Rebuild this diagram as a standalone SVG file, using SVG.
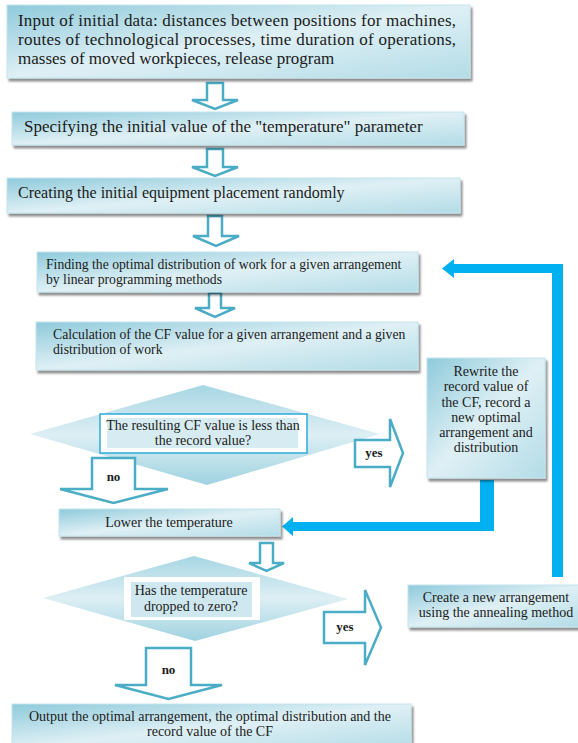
<svg xmlns="http://www.w3.org/2000/svg" width="578" height="743" viewBox="0 0 578 743">
<defs>
<linearGradient id="g" x1="0" y1="0" x2="1" y2="1">
<stop offset="0" stop-color="#8fcadb"/>
<stop offset="0.5" stop-color="#dff0f5"/>
<stop offset="1" stop-color="#b3dce7"/>
</linearGradient>
<linearGradient id="gd" x1="0" y1="0" x2="0" y2="1">
<stop offset="0" stop-color="#a7d6e3"/>
<stop offset="0.5" stop-color="#ddeff4"/>
<stop offset="1" stop-color="#9fd2e0"/>
</linearGradient>
<filter id="sh" x="-5%" y="-10%" width="115%" height="130%">
<feGaussianBlur in="SourceAlpha" stdDeviation="1"/>
<feOffset dx="2" dy="3" result="b"/>
<feComponentTransfer><feFuncA type="linear" slope="0.45"/></feComponentTransfer>
<feMerge><feMergeNode/><feMergeNode in="SourceGraphic"/></feMerge>
</filter>
</defs>
<style>
.box{fill:url(#g);stroke:#c4e4ed;stroke-width:1;filter:url(#sh)}
.dia{fill:url(#gd);stroke:none}
.ha{fill:#ffffff;stroke:#4bacc6;stroke-width:2.5;stroke-linejoin:miter}
.bl{fill:#00b0f0;stroke:none}
text{font-family:"Liberation Serif","Times New Roman",serif;fill:#1b1b1b}
.t17{font-size:17px}
.t16{font-size:16px}
.t13{font-size:13.7px}
.t14{font-size:14px}
.c{text-anchor:middle}
.lb{font-size:13px;text-anchor:middle;font-weight:bold}
</style>

<g id="connectors">
<polygon class="bl" points="563,264 563,577 552,577 552,273 454,273 454,278 442,268.5 454,259 454,264"/>
<polygon class="bl" points="480,480 494,480 494,531 293,531 293,536 282,526.5 293,517 293,522 480,522"/>
<polygon id="a1" class="ha" points="207,83 223,83 223,100 238,100 215,109 192,100 207,100"/>
<polygon id="a2" class="ha" points="207,149 223,149 223,167 238,167 215,176 192,167 207,167"/>
<polygon id="a3" class="ha" points="208,216 222,216 222,236 239,236 216,246 193,236 208,236"/>
<polygon id="a4" class="ha" points="209,293 221,293 221,308 235,308 215,317 195,308 209,308"/>
<polygon id="a5" class="ha" points="260,543 273,543 273,563 284,563 266.5,571 249,563 260,563"/>
</g>

<g id="n1">
<rect class="box" x="7" y="5" width="463" height="73"/>
<text class="t17" x="18" y="26" textLength="438" lengthAdjust="spacing">Input of initial data: distances between positions for machines,</text>
<text class="t17" x="18" y="45" textLength="438" lengthAdjust="spacing">routes of technological processes, time duration of operations,</text>
<text class="t17" x="18" y="64">masses of moved workpieces, release program</text>
</g>

<g id="n2">
<rect class="box" x="12" y="112" width="452" height="33"/>
<text class="t17" x="24" y="132">Specifying the initial value of the "temperature" parameter</text>
</g>

<g id="n3">
<rect class="box" x="7" y="178" width="453" height="35"/>
<text class="t16" x="18" y="198">Creating the initial equipment placement randomly</text>
</g>

<g id="n4">
<rect class="box" x="37" y="252" width="381" height="40"/>
<text class="t13" x="46" y="269">Finding the optimal distribution of work for a given arrangement</text>
<text class="t13" x="46" y="284">by linear programming methods</text>
</g>

<g id="n5">
<rect class="box" x="36" y="322" width="382" height="48"/>
<text class="t13" x="53" y="339">Calculation of the CF value for a given arrangement and a given</text>
<text class="t13" x="53" y="354">distribution of work</text>
</g>

<g id="d1">
<polygon class="dia" points="30,434 203,385 380,434 207,485"/>
<rect x="100" y="414" width="207" height="39" fill="#ffffff" stroke="#2eaadc" stroke-width="1.5"/>
<rect x="107" y="418" width="191" height="30" fill="#d7ecf2"/>
<text class="t14 c" x="203" y="430">The resulting CF value is less than</text>
<text class="t14 c" x="203" y="445">the record value?</text>
</g>

<g id="yes1">
<polygon class="ha" points="355,440 390,440 390,419 403,453 390,487 390,467 355,467"/>
<text class="lb" x="374" y="457">yes</text>
</g>

<g id="no1">
<polygon class="ha" points="92,458 135,458 135,489 168,489 113.5,503 60,489 92,489"/>
<text class="lb" x="113.5" y="481">no</text>
</g>

<g id="n6">
<rect class="box" x="427" y="358" width="118" height="120"/>
<text class="t14 c" x="486" y="376">Rewrite the</text>
<text class="t14 c" x="486" y="391">record value of</text>
<text class="t14 c" x="486" y="407">the CF, record a</text>
<text class="t14 c" x="486" y="422">new optimal</text>
<text class="t14 c" x="486" y="437">arrangement and</text>
<text class="t14 c" x="486" y="452">distribution</text>
</g>

<g id="n7">
<rect class="box" x="59" y="509" width="221" height="27"/>
<text class="t14 c" x="169" y="527">Lower the temperature</text>
</g>

<g id="d2">
<polygon class="dia" points="43,598 194,556 348,599 195,641"/>
<rect x="124" y="577" width="136" height="43" fill="#ffffff"/>
<rect x="131" y="582" width="121" height="35" fill="#cfe8f0"/>
<text class="t14 c" x="191" y="595">Has the temperature</text>
<text class="t14 c" x="191" y="611">dropped to zero?</text>
</g>

<g id="yes2">
<polygon class="ha" points="324,612 365,612 365,590 381,627.5 365,665 365,643 324,643"/>
<text class="lb" x="345" y="631">yes</text>
</g>

<g id="no2">
<polygon class="ha" points="146,648 191,648 191,685 222,685 168.5,699 115,685 146,685"/>
<text class="lb" x="168.5" y="674">no</text>
</g>

<g id="n8">
<rect class="box" x="408" y="585" width="175" height="42"/>
<text class="t14 c" x="496" y="602">Create a new arrangement</text>
<text class="t14 c" x="496" y="617">using the annealing method</text>
</g>

<g id="n9">
<rect class="box" x="12" y="704" width="399" height="45"/>
<text class="t14 c" x="210" y="721">Output the optimal arrangement, the optimal distribution and the</text>
<text class="t14 c" x="210" y="736">record value of the CF</text>
</g>
</svg>
